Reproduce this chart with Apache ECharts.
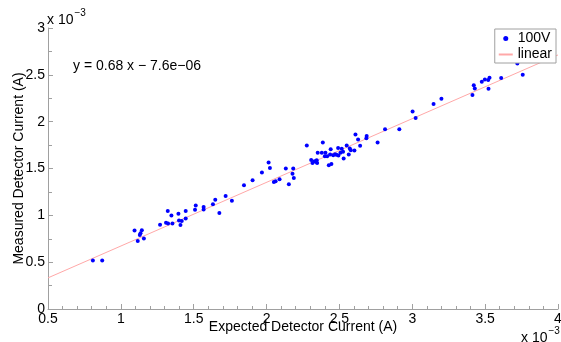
<!DOCTYPE html>
<html>
<head>
<meta charset="utf-8">
<script src="https://cdn.jsdelivr.net/npm/echarts@6/dist/echarts.min.js"></script>
<style>
  html, body { margin: 0; padding: 0; background: #fff; }
  #chart { width: 561px; height: 342px; }
</style>
</head>
<body>
<div id="chart"></div>
<script>
// values in units of 1e-3 A
const expected = [
  0.808, 0.872, 1.094, 1.116, 1.130, 1.135, 1.144, 1.158, 1.269, 1.310,
  1.324, 1.322, 1.347, 1.354, 1.395, 1.399, 1.418, 1.409, 1.445, 1.445,
  1.509, 1.514, 1.568, 1.568, 1.632, 1.648, 1.676, 1.719, 1.762, 1.845,
  1.904, 1.968, 2.014, 2.023, 2.050, 2.062, 2.089, 2.132, 2.153, 2.178,
  2.183, 2.187, 2.276, 2.306, 2.315, 2.329, 2.338, 2.344, 2.347, 2.351,
  2.379, 2.386, 2.400, 2.404, 2.416, 2.427, 2.436, 2.440, 2.445, 2.457,
  2.470, 2.479, 2.491, 2.493, 2.507, 2.516, 2.525, 2.529, 2.550, 2.564,
  2.571, 2.578, 2.603, 2.610, 2.628, 2.642, 2.685, 2.687, 2.762, 2.813,
  2.911, 3.002, 3.023, 3.146, 3.200, 3.413, 3.422, 3.429, 3.477, 3.498,
  3.521, 3.530, 3.523, 3.610, 3.721, 3.758
];
const measured = [
  0.517, 0.517, 0.838, 0.725, 0.789, 0.810, 0.842, 0.753, 0.899, 0.921,
  0.913, 1.046, 0.999, 0.913, 1.017, 0.945, 0.939, 0.896, 1.046, 0.967,
  1.060, 1.106, 1.089, 1.063, 1.117, 1.167, 1.024, 1.206, 1.156, 1.320,
  1.374, 1.456, 1.563, 1.506, 1.356, 1.363, 1.385, 1.499, 1.331, 1.445,
  1.499, 1.399, 1.745, 1.592, 1.560, 1.577, 1.571, 1.588, 1.560, 1.667,
  1.667, 1.777, 1.631, 1.667, 1.631, 1.535, 1.649, 1.706, 1.547, 1.642,
  1.653, 1.646, 1.720, 1.638, 1.667, 1.710, 1.678, 1.606, 1.745, 1.649,
  1.713, 1.695, 1.692, 1.863, 1.810, 1.742, 1.824, 1.846, 1.777, 1.920,
  1.920, 2.109, 2.038, 2.188, 2.245, 2.284, 2.388, 2.355, 2.427, 2.449,
  2.445, 2.470, 2.352, 2.466, 2.620, 2.502
];
// linear fit y = 0.68 x - 7.6e-06, endpoints at the axis limits (scaled by 1e3)
const fitX = [0.5, 4.0];
const fitY = [0.3324, 2.7124];

const FONT = '"Liberation Sans", Arial, Helvetica, sans-serif';
const AXIS_GRAY = '#a0a0a0';

const chart = echarts.init(document.getElementById('chart'));

const axisCommon = {
  type: 'value',
  interval: 0.5,
  axisLine: { show: true, onZero: false, lineStyle: { color: AXIS_GRAY, width: 1 } },
  axisTick: { show: true, inside: true, length: 5, lineStyle: { color: AXIS_GRAY } },
  splitLine: { show: false },
  axisLabel: {
    color: '#000', fontFamily: FONT, fontSize: 14,
    formatter: (v) => String(Math.round(v * 10) / 10),
  },
  nameLocation: 'middle',
  nameMoveOverlap: false,
  nameTextStyle: { color: '#000', fontFamily: FONT, fontSize: 14 },
};

// superscript exponent label used at the top and bottom right
const expLabel = {
  text: '{a|x 10}{b|\u22123}',
  rich: {
    a: { fill: '#000', font: '14px ' + FONT, padding: [8, 0, 0, 0] },
    b: { fill: '#000', font: '10px ' + FONT, padding: [0, 0, 6, 1] },
  },
};

chart.setOption({
  backgroundColor: '#fff',
  animation: false,
  grid: { left: 48, right: 3, top: 28, bottom: 33, containLabel: false, outerBoundsMode: 'none' },
  xAxis: {
    ...axisCommon,
    min: 0.5,
    max: 4,
    name: 'Expected Detector Current (A)',
    nameGap: 11,
    minorTick: { show: true, splitNumber: 5, length: 3, lineStyle: { color: AXIS_GRAY } },
    axisLabel: { ...axisCommon.axisLabel, margin: 3 },
  },
  yAxis: {
    ...axisCommon,
    min: 0,
    max: 3,
    name: 'Measured Detector Current (A)',
    nameGap: 22,
    minorTick: { show: true, splitNumber: 2, length: 4, lineStyle: { color: AXIS_GRAY } },
    axisLabel: { ...axisCommon.axisLabel, margin: 3 },
  },
  legend: {
    right: 5,
    top: 29,
    orient: 'vertical',
    align: 'left',
    itemWidth: 14,
    itemHeight: 5,
    itemGap: 1,
    padding: [2, 4, 1, 3],
    borderColor: '#a0a0a0',
    borderWidth: 1,
    backgroundColor: '#fff',
    textStyle: { color: '#000', fontFamily: FONT, fontSize: 14, lineHeight: 15 },
    data: [
      { name: '100V', icon: 'circle' },
      { name: 'linear', itemStyle: { opacity: 0 } },
    ],
  },
  graphic: [
    {
      type: 'text',
      left: 73,
      top: 59,
      style: { text: 'y = 0.68 x \u2212 7.6e\u221206', fill: '#000', font: '14px ' + FONT },
    },
    { type: 'text', left: 47, top: 8, style: expLabel },
    { type: 'text', left: 521, top: 326, style: expLabel },
  ],
  series: [
    {
      name: '100V',
      type: 'scatter',
      symbol: 'circle',
      symbolSize: 4,
      itemStyle: { color: '#0000ff', opacity: 1 },
      data: expected.map((x, i) => [x, measured[i]]),
      z: 3,
    },
    {
      name: 'linear',
      type: 'line',
      symbol: 'none',
      lineStyle: { color: '#ffa8a8', width: 1 },
      itemStyle: { color: '#ffa8a8' },
      data: fitX.map((x, i) => [x, fitY[i]]),
      z: 2,
    },
  ],
});
</script>
</body>
</html>
